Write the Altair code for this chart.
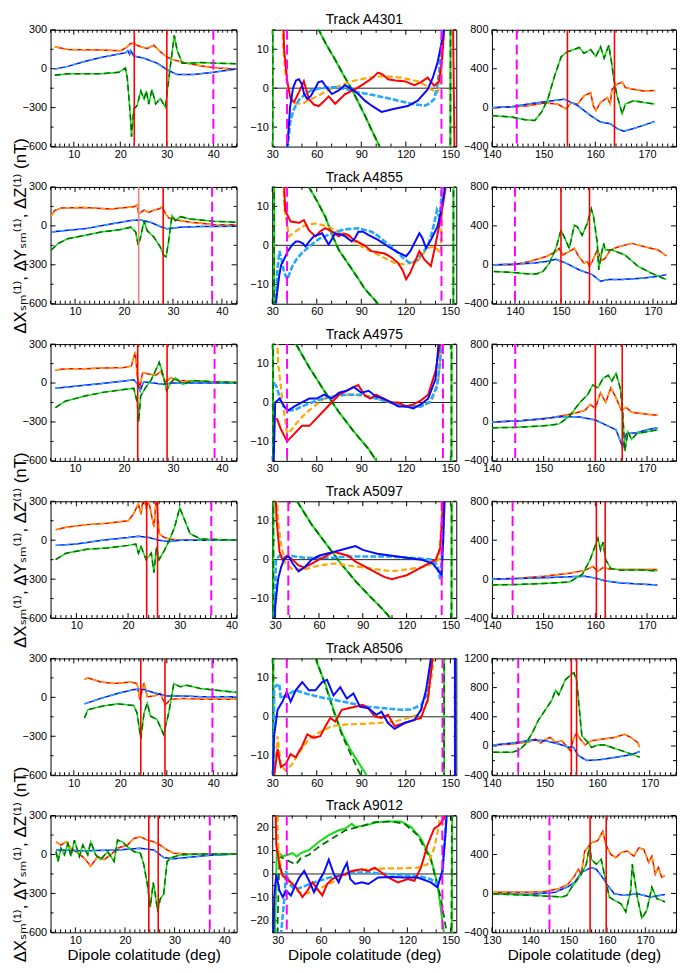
import math
import altair as alt
import pandas as pd

FONT = "Liberation Sans, Arial, DejaVu Sans"
RED = "#ff0000"; ORANGE = "#ffa500"; BLUE = "#0a0aff"; CYAN = "#22a8ff"
GREEN = "#11dd11"; DKGREEN = "#007000"; MAGENTA = "#ff00ff"; PINK = "#f28080"
H = 118
W_L, W_M, W_R = 188, 186, 186
YTITLE = "ΔXₛₘ⁽¹⁾, ΔYₛₘ⁽¹⁾, ΔZ⁽¹⁾ (nT)"
XTITLE = "Dipole colatitude (deg)"

# ---------------- Track A4301 ----------------
A4301_left_red = [(5.9,169),(8.7,149),(12,146),(15.8,144),(20.1,139),(21.5,169),(22.2,194),(22.9,194),(23.6,181),(24.4,169),(25.8,156),(27.2,181),(28.6,131),(30.1,88),(31.5,68),(33.6,48),(37.2,23),(40.7,5),(45,-3)]
A4301_left_blue = [(5.9,-3),(8.7,18),(12.3,56),(15.8,86),(19.4,111),(21.2,124),(21.6,139),(22,110),(22.2,140),(22.9,98),(25.1,81),(27.9,43),(30.1,-8),(32.2,-45),(35.7,-45),(40,-28),(45,-3)]
A4301_left_green = [(5.9,-50),(8.7,-38),(15.8,-38),(19.7,-28),(21.1,5),(21.5,-71),(22.2,-386),(22.4,-524),(22.9,-310),(23.6,-285),(24.4,-171),(25.1,-234),(25.6,-171),(26.1,-272),(26.8,-161),(27.6,-272),(28.6,-229),(29.7,-297),(30.4,-83),(31.1,118),(31.6,257),(32.2,144),(33.3,43),(35,43),(37.2,48),(40.7,43),(45,38)]
A4301_left_redv = [23, 30]
A4301_left_magv = [40]

A4301_mid_red = [(36.5,30),(38,10),(40,2),(42.4,-2.8),(44.7,-3.6),(48,-1),(51.3,1.8),(54.7,-2.8),(58,-4.2),(61.3,-4.6),(64.5,-3.5),(68,-2.1),(72.4,-4),(79.1,-1.5),(85.8,-0.3),(92.4,1.3),(97,2.5),(101.3,4),(104.5,3.5),(108,2.3),(113,2),(119.1,1.8),(125.8,0.8),(130,1.5),(134.7,2.7),(139.1,0.6),(142.4,1.8),(144.5,8),(145.8,15),(147,30),(150.5,60),(153.5,-40)]
A4301_mid_orange = [(35.5,30),(37.5,10),(39.1,3.1),(41,-1),(43.6,-3.2),(46,-4),(50.2,-4),(55,-3),(61.3,-1.9),(66,-0.8),(72.4,0.2),(78,1),(83.6,1.8),(94.7,2.7),(105.8,3.1),(116.9,2.7),(128,1.8),(133,0.8),(136.9,-0.3),(141.3,-1.1),(143,1),(144,4.8),(145.8,15),(147,30)]
A4301_mid_blue = [(39.5,-30),(40.2,-15),(42,-5),(44,0),(46,2),(48,2.3),(50,1),(51.5,-1.5),(53.6,-2.8),(56,-2),(59,0),(61,1.5),(63.6,1.8),(66,0.5),(70.2,-1.5),(75,-0.5),(79,0.8),(83.6,-0.3),(88,-1.5),(92.4,-3.2),(97,-4.5),(103.6,-6.1),(112.4,-5.3),(121.3,-4.6),(128,-3.2),(134.7,-0.3),(138,2.5),(141.3,6.5),(145.8,14.9),(147,30)]
A4301_mid_cyan = [(39.5,-30),(40.5,-15),(42,-9),(44,-6),(45.8,-4.5),(48,-3),(52.4,-1.5),(56,-0.6),(61.3,-0.1),(67,0.2),(74.7,0.2),(80,-0.3),(88,-1.1),(97,-1.7),(105.8,-2.4),(115,-3.2),(123.6,-4),(132.4,-4.5),(136,-4),(139,-2.8),(141,0),(142.4,4),(144.7,14.9),(146,30)]
A4301_mid_green = [(30.1,-100),(30.4,100),(61.3,15),(66,11.5),(72.4,7.3),(78,3.4),(83.6,-0.3),(88,-3.6),(92.4,-7),(97,-10.8),(102.4,-15),(105,-17),(149.8,-100),(150.3,100)]
A4301_mid_magv = [40, 144]

A4301_right_red = [(140,0),(143.8,7),(147,20),(150.2,47),(152.7,37),(154.3,-13),(155.3,47),(156.6,37),(157.8,121),(159.1,155),(159.6,20),(160.1,-30),(161,54),(162.3,104),(162.9,37),(163.2,188),(164.2,239),(165.2,262),(165.8,205),(166.8,195),(169.3,171),(171.5,175)]
A4301_right_blue = [(140,0),(143.8,10),(147,37),(150.2,60),(154,87),(156.6,20),(159.1,-81),(161,-148),(162.9,-165),(164.2,-215),(165.5,-242),(167.4,-215),(169.3,-182),(171.5,-141)]
A4301_right_green = [(140,-81),(143.8,-97),(146.4,-124),(148.3,-131),(149.6,-47),(150.8,87),(152.1,323),(153.4,524),(154.6,575),(155.9,598),(156.9,618),(157.8,558),(159.1,598),(160.1,524),(161,625),(161.7,508),(162.6,642),(163.1,474),(163.6,289),(164.2,121),(165.2,-64),(165.8,37),(167.4,71),(169.3,54),(171.5,37)]
A4301_right_redv = [154.6, 163.7]
A4301_right_magv = [144.8]

# ---------------- Track A4855 ----------------
A4855_left_red = [(5.1,72),(5.8,118),(7.2,137),(11.9,142),(17.3,130),(22,147),(22.7,162),(23,92),(24.1,122),(25.1,104),(26.1,122),(27.1,130),(27.8,147),(28.5,92),(29.1,61),(30.8,46),(33.5,28),(38.3,10),(43,8)]
A4855_left_blue = [(5.1,-48),(8,-35),(11.9,-23),(17.3,15),(21.4,41),(23.4,46),(25.4,28),(27.4,-5),(28.8,-23),(31.5,-10),(35.6,-5),(43,-3)]
A4855_left_green = [(5.1,-188),(6.5,-137),(8.5,-99),(11.9,-74),(15.3,-48),(19.3,-28),(21.4,-10),(22.4,-48),(22.9,-150),(23.4,-86),(24.1,41),(24.7,-36),(26.1,-86),(27.4,-162),(28.1,-226),(28.6,-238),(29.1,-124),(29.8,79),(30.5,41),(31.5,71),(33.5,53),(38.3,35),(43,28)]
A4855_left_pinkv = [23]
A4855_left_redv = [28]
A4855_left_magv = [38]

A4855_mid_red = [(36.5,30),(38.7,9),(42.4,6.1),(48,5.8),(51.3,6.5),(54.7,3.9),(59.1,2.3),(62,3.5),(65.8,4.4),(70.2,3.5),(74.7,2.3),(78,3),(81.3,2.7),(84.5,1.5),(88,0.8),(92,0),(96.9,-1.5),(101,-1.8),(105.8,-2.1),(110,-3),(114.7,-4.5),(118,-6.5),(120.2,-8.7),(123,-7),(125.8,-4.5),(129.1,-1.5),(132.4,-3.6),(136.9,-5.3),(140.2,0.6),(143.6,7.3),(146.9,15),(148,25)]
A4855_mid_orange = [(35.5,30),(38.4,9),(41.3,2.3),(44.7,3.3),(50.2,4.8),(55,5.4),(59.1,5.6),(64,5.2),(68,4.8),(73,3.8),(79.1,2.7),(84,1.3),(90.2,-0.3),(95,-1.3),(101.3,-2.4),(107,-3.5),(112.4,-4.5),(119.1,-4.9),(128,-4),(132,-2),(134.7,-0.7),(139.1,-0.3),(141.5,-1.2),(143.6,-2.1),(144,5),(144.5,11.5),(145.5,25)]
A4855_mid_blue = [(32.4,-15),(34.7,-7.8),(36,-5),(38,-3.6),(40.5,-1.5),(43.6,0.2),(46,1),(48,1),(50.5,0.5),(52.4,-0.3),(55,1),(58,2.3),(63.6,3.1),(66,1.5),(68,0.2),(70,1.5),(72.4,3.1),(76,2.8),(79.1,2.3),(83.6,1),(86,2),(88,3.5),(91,3.5),(94.7,2.7),(101.3,1.4),(108,-0.3),(114.7,-1.8),(120.2,-2.8),(123,-1.5),(125.8,0.6),(129.1,3.1),(131,2),(133.6,-0.7),(136.9,1.4),(139,3),(141.3,4.8),(143.5,8.5),(145.8,13.2),(147,20)]
A4855_mid_cyan = [(32,-20),(33.3,-7),(34.8,-1.5),(36.5,-4),(38,-7),(40.2,-8.7),(43.6,-5.3),(46.5,-3.5),(50.2,-1.9),(55,-0.3),(59.1,1),(63,2),(68,2.7),(73,3.5),(79.1,4.1),(88,4.4),(96.9,3.5),(101,2.5),(105.8,1),(110,-0.3),(114.7,-1.9),(118,-3.2),(122.4,-4.5),(125,-4.3),(128,-3.6),(131,-2),(134.7,-0.3),(137,2.5),(139.1,5.6),(140.9,9),(142.4,7.3),(143.5,10),(145,20)]
A4855_mid_green = [(31,-100),(31.5,100),(54.7,15),(60,11.5),(65.8,7.3),(70,3),(74.7,-1.1),(79,-3.5),(83.6,-6.1),(88,-8.6),(92.4,-11.2),(97,-13.2),(101.3,-15),(104,-17),(151.8,-100),(152.3,100)]
A4855_mid_magv = [40, 144]

A4855_right_red = [(135.4,0),(139.6,0),(143.2,34),(146.8,85),(148.9,135),(149.6,169),(150.4,101),(151.8,135),(152.9,169),(153.9,85),(155,17),(155.7,34),(156.2,-17),(156.8,34),(157.9,152),(158.9,44),(159.6,68),(160.7,152),(162.5,186),(165.4,220),(168.2,186),(171.1,152),(172.9,91)]
A4855_right_blue = [(135.4,0),(139.6,7),(143.9,17),(146.8,34),(148.9,57),(151.1,17),(153.9,-51),(156.8,-101),(158.6,-169),(160.4,-152),(163.2,-152),(168.2,-135),(171.1,-118),(172.9,-101)]
A4855_right_green = [(135.4,-68),(139.6,-78),(142.5,-91),(144.6,-95),(146.1,-68),(147.5,17),(148.9,169),(150,355),(150.7,287),(151.8,169),(152.9,406),(153.6,389),(154.6,304),(155.7,423),(156.6,575),(157.1,490),(157.9,220),(158.2,-51),(158.8,118),(159.3,220),(159.6,152),(161.1,152),(163.9,101),(166.8,-17),(169.6,-85),(172.9,-152)]
A4855_right_redv = [150, 156.2]
A4855_right_magv = [140]

# ---------------- Track A4975 ----------------
A4975_left_red = [(6,100),(8,110),(12,110),(16,115),(20,120),(21.5,130),(22.3,240),(22.7,60),(23.2,-40),(23.8,80),(25,70),(26.5,60),(27.5,90),(28.5,10),(29.5,40),(31,20),(34,15),(38,10),(43,5)]
A4975_left_blue = [(6,-40),(10,-25),(15,-5),(20,15),(22,25),(22.8,-10),(23.3,-60),(24,10),(26,0),(28,-10),(30,0),(35,0),(43,0)]
A4975_left_green = [(6,-190),(8,-140),(12,-100),(16,-70),(20,-50),(22,-40),(22.7,-150),(23,-300),(23.4,-100),(24.5,-30),(25.5,20),(26.5,100),(27.2,160),(28,60),(28.7,-60),(29.5,0),(30.5,40),(32,-10),(34,20),(38,10),(43,5)]
A4975_left_redv = [22.8, 28.8]
A4975_left_magv = [38.5]

A4975_mid_red = [(33,-4),(36,-7),(40,-10),(45,-8),(50,-6),(55,-6),(60,-4),(65,-2),(70,0),(75,2),(80,3),(85,4),(88,4.5),(92,2),(96,1),(100,2),(105,1),(110,0),(115,0),(120,-1),(125,-0.5),(130,0.5),(135,2),(140,8),(143,15),(145,30)]
A4975_mid_orange = [(32,30),(34,10),(37,0),(40,-8),(43,-7),(47,-5),(52,-3),(58,-1),(65,1),(75,2),(85,2),(95,1.5),(105,0.5),(115,-0.5),(125,-1),(132,-1),(138,1),(142,6),(145,20)]
A4975_mid_blue = [(31,-15),(32,0),(35,1),(38,-1),(41,-2),(45,-1),(50,0),(55,1),(60,1),(65,2),(70,1),(75,2.5),(80,3),(85,4),(90,2.5),(95,3),(100,1.5),(105,1),(110,0),(115,-1),(120,-1),(125,-1.5),(130,-0.5),(135,1),(140,6),(142,15),(144,20)]
A4975_mid_cyan = [(31,5),(33,4),(36,0),(40,-2),(45,-2),(50,-1),(60,0.5),(70,1.5),(80,2),(90,2),(100,1),(110,0),(120,-1),(130,-1),(136,0),(141,4),(143,10),(145,20)]
A4975_mid_green = [(30.3,-100),(30.8,100),(46,15),(55,9),(65,3),(75,-2.5),(85,-7.5),(95,-12),(101,-15.5),(105,-18),(150.5,-100),(151,100)]
A4975_mid_magv = [40, 145]

A4975_right_red = [(140,0),(145,10),(150,30),(153,60),(156,90),(158,120),(159,180),(160,140),(161,300),(162,200),(163,350),(164,250),(165,120),(166,150),(167,100),(170,80),(172,70)]
A4975_right_blue = [(140,0),(145,10),(150,35),(154,55),(157,50),(160,20),(162,-30),(164,-80),(165.3,-260),(166,-120),(168,-110),(170,-80),(172,-60)]
A4975_right_green = [(140,-60),(145,-55),(150,-40),(153,-20),(155,60),(157,200),(158.5,280),(159.5,380),(160.5,350),(161.5,450),(162.5,480),(163.2,420),(164,500),(164.8,350),(165.3,100),(165.7,-300),(166.3,-100),(167,-180),(168,-120),(170,-100),(172,-80)]
A4975_right_redv = [160, 165.2]
A4975_right_magv = [144.5]

# ---------------- Track A5097 ----------------
A5097_left_red = [(6,80),(8,100),(12,120),(16,130),(20,150),(21,200),(22,280),(22.5,200),(23,350),(23.5,250),(24,300),(25,100),(25.5,350),(26,50),(27,20),(28,10),(30,0),(35,0),(41,0)]
A5097_left_blue = [(6,-40),(10,-30),(15,0),(20,20),(22,30),(24,20),(26,0),(28,-10),(30,0),(41,0)]
A5097_left_green = [(6,-150),(8,-100),(12,-70),(16,-60),(20,-40),(21.5,-30),(22,-100),(22.5,-50),(23.5,-150),(24.5,-100),(25,-250),(25.5,-50),(26,-150),(27,-80),(28,0),(29,100),(30,250),(31,150),(32,50),(34,10),(41,0)]
A5097_left_redv = [23.6, 25.7]
A5097_left_magv = [36.1]

A5097_mid_red = [(29,30),(31,10),(33,2),(35,0),(38,1),(42,0),(46,-1.5),(50,-2),(55,-1),(60,0),(65,1),(70,2),(75,1.5),(80,1),(85,-0.5),(90,-1.5),(95,-2.5),(100,-3.5),(105,-4.5),(110,-5),(115,-4.5),(120,-4),(125,-3),(130,-2),(135,-1),(140,0),(143,3),(145,15),(146,30)]
A5097_mid_orange = [(30,30),(32,10),(34,4),(37,-1),(42,-2.5),(50,-2.5),(60,-1.5),(70,-1),(80,-1.5),(90,-2),(100,-2.5),(110,-3),(120,-2.5),(130,-2),(138,-1),(142,0),(144,10),(145,30)]
A5097_mid_blue = [(28.5,-30),(30,-12),(32,-5),(34,-2),(36,0),(39,1),(42,-1),(46,-3),(50,-2),(55,0),(60,1),(65,1.5),(70,2),(75,2.5),(80,3),(85,3.5),(90,2.5),(95,2),(100,1.5),(110,1),(120,0.5),(130,0),(138,-1),(142,-3),(144,-4),(146,15),(147,30)]
A5097_mid_cyan = [(29,-30),(30.5,0),(33,1),(36,0.5),(40,1),(50,0.5),(60,0.5),(70,0.5),(80,0.8),(90,0.8),(100,0.8),(110,0.8),(120,0.5),(130,0.3),(138,0),(141,-1.5),(143,-5),(145,5),(146,30)]
A5097_mid_green = [(28.5,-100),(29,100),(45,15),(55,9),(65,4),(75,-1),(85,-5.5),(95,-9.5),(103,-12.5),(110,-15.5),(115,-18),(150.5,-100),(151,100)]
A5097_mid_magv = [39, 144]

A5097_right_red = [(140,0),(145,10),(150,30),(155,60),(158,90),(159.5,130),(160.5,80),(161.5,120),(163,100),(166,100),(172,100)]
A5097_right_blue = [(140,0),(145,5),(150,15),(155,25),(158,30),(160,10),(162,-20),(165,-40),(172,-60)]
A5097_right_green = [(140,-60),(145,-55),(150,-45),(155,-30),(157.5,50),(159,200),(160,350),(160.5,420),(161,300),(161.5,380),(162,200),(163,110),(165,90),(168,95),(172,85)]
A5097_right_redv = [160.2, 161.9]
A5097_right_magv = [144]

# ---------------- Track A8506 ----------------
A8506_left_red = [(12.3,136),(13,151),(15.8,118),(18.7,106),(22.2,118),(23.6,106),(24.2,-20),(24.7,55),(25.1,111),(25.8,5),(27.2,10),(28.6,30),(29.7,-58),(30.8,-15),(33.6,-8),(37.2,-15),(45,-15)]
A8506_left_blue = [(12.3,-50),(15.8,-8),(19.4,30),(22.9,60),(25.1,60),(27.2,35),(30.1,10),(33.6,10),(37.2,5),(45,5)]
A8506_left_green = [(12.3,-159),(13,-96),(15.8,-71),(19.4,-50),(22.9,-63),(23.6,-121),(24.4,-318),(25.1,-121),(25.8,-45),(26.5,-146),(27.9,-171),(29.3,-285),(30.4,-121),(31.5,106),(32.9,81),(34.3,93),(37.2,68),(40.7,55),(45,38)]
A8506_left_redv = [24.4, 29.6]
A8506_left_magv = [39.8]

A8506_mid_red = [(31.3,-15),(33.6,-8.3),(35.8,-12.9),(39.1,-12.1),(42.4,-9.6),(45.8,-10.4),(50.2,-7.5),(53.6,-4.5),(58,-5.4),(62.4,-5),(65.8,-2.4),(69.1,-0.3),(72.4,-1.2),(76.9,1.8),(81.3,2.2),(85.8,2.6),(91.3,3),(94.7,2.2),(99.1,0.1),(103.6,-0.3),(108,0.5),(112.4,-2.4),(119.1,-1.6),(125.8,-0.8),(130.2,-0.3),(134.7,4.3),(138,15),(140,30)]
A8506_mid_orange = [(31.3,-15),(33.6,-5),(35.8,-12.5),(39.1,-13.8),(43.6,-12.1),(48,-9.2),(54.7,-5.8),(61.3,-4.1),(70.2,-2.4),(79.1,-2),(90.2,-1.8),(101.3,-1.6),(112.4,-1.2),(121.3,-0.3),(128,0.5),(134.7,3.9),(139.1,15),(141,30),(153.2,100),(153.6,-100)]
A8506_mid_blue = [(30.2,-15),(31.3,-4.8),(33.6,1.8),(36.9,3.9),(39.8,6.4),(42.4,3.9),(45.8,6.8),(50.2,8.9),(54.7,6.8),(59.1,6.8),(63.6,8.9),(66.9,9.5),(71.3,5.5),(75.8,7.6),(80.2,4.7),(84.7,6),(89.1,2.6),(94.7,2.2),(100.2,0.5),(103.6,1.3),(108,-1.6),(112.4,-3.1),(119.1,-1.6),(125.8,-0.8),(130.2,1.8),(133.6,6.8),(136.9,15),(140,30),(153,100),(153.3,-100)]
A8506_mid_cyan = [(30.9,-15),(31.3,7.6),(34.7,8.5),(35.8,4.7),(39.1,5.5),(45.8,6.8),(52.4,6),(61.3,5.1),(72.4,4.3),(83.6,3.4),(94.7,2.6),(105.8,2.2),(116.9,1.8),(123.6,1.9),(130.2,3),(134.7,6),(138,15),(140,30),(153,100),(153.4,-100)]
A8506_mid_green = [(30.5,-100),(30.9,100),(59.1,15),(62,12),(65.8,8.5),(71.3,1.8),(76.9,-4.1),(82.4,-8.3),(88,-11.7),(93.6,-15),(96,-17),(145.6,-100),(146,100)]
A8506_mid_dkgreen = [(30.5,-100),(30.9,100),(59.5,15),(65.8,8),(71.3,1.5),(76.9,-4.6),(82.4,-9.2),(87,-13),(89.6,-15),(92,-17),(145.6,-100),(146,100)]
A8506_mid_magv = [39.8, 144.7]

A8506_right_red = [(140.2,13),(143.9,27),(147.1,58),(148.3,94),(149.3,40),(150.2,94),(151.1,117),(152.1,49),(153.3,72),(154.9,-63),(155.5,94),(156.1,175),(156.8,94),(157.7,13),(158.9,72),(160.8,94),(163.3,117),(165.2,161),(166.4,117),(167.7,49),(168.1,-18)]
A8506_right_blue = [(140.2,13),(143.9,40),(147.7,81),(150.2,72),(152.7,27),(154.6,-18),(155.5,-18),(156.4,-130),(158,-197),(160.8,-184),(163.9,-152),(166.4,-121),(168.1,-76)]
A8506_right_green = [(140.2,-85),(143.9,-85),(145.2,-54),(146.4,27),(147.7,184),(148.9,363),(150.2,498),(151.4,632),(152.1,766),(152.7,699),(153.9,901),(155.2,991),(155.6,1000),(156.1,901),(157.1,139),(157.7,94),(158.3,49),(158.9,-18),(160.2,13),(161.4,13),(162.7,-18),(164.6,-63),(166.4,-108),(168.1,-152)]
A8506_right_redv = [155.1, 156.1]
A8506_right_magv = [145]

# ---------------- Track A9012 ----------------
A9012_left_red = [(6.1,98),(7.1,73),(8.1,98),(9.1,48),(10.5,10),(11.8,-28),(13.1,-90),(14.5,-15),(15.8,-40),(17.1,-3),(18.5,48),(20.5,73),(21.8,123),(23.1,136),(24.5,111),(25.8,98),(27.1,73),(28.5,35),(29.8,10),(32.5,3),(42.5,3)]
A9012_left_blue = [(6.1,35),(11.8,28),(18.5,35),(23.1,48),(25.8,35),(27.8,-23),(29.8,-33),(32.5,-23),(36.5,-8),(42.5,3)]
A9012_left_green = [(6.1,23),(6.5,-53),(7.1,48),(7.8,-3),(8.5,85),(9.1,-15),(9.8,111),(10.8,-15),(11.5,73),(12.5,-3),(13.1,98),(14.1,-3),(15.1,-40),(16.5,23),(17.8,-53),(18.5,111),(19.5,98),(20.5,60),(21.8,23),(23.1,10),(23.8,-78),(24.5,-229),(25.1,-405),(25.7,-216),(26.1,-304),(26.6,-442),(27.1,-342),(27.8,-304),(28.5,-53),(29.5,-23),(31.1,-3),(35.1,3),(42.5,3)]
A9012_left_redv = [24.8, 26.7]
A9012_left_magv = [37.1]

A9012_mid_red = [(28,40),(28.9,12.4),(31.1,4.1),(33.4,-0.8),(38,-2.9),(42.6,-5.7),(47.1,-9.9),(50.6,-7.1),(54,-3.6),(57.4,-6.4),(60.9,-9.2),(64.3,-4.3),(67.7,-2.2),(72.3,-0.8),(76.9,-0.1),(81.4,1.3),(88.3,2),(92.9,1.3),(97.4,2.7),(102,0.6),(106.6,-1.5),(113.4,-3.6),(120.3,-2.2),(124.9,-2.9),(129.4,2.7),(134,12.4),(138.6,19.4),(142,20.8),(145.4,23.6),(147.7,30)]
A9012_mid_orange = [(29,40),(30,13.8),(32.3,0.6),(35.7,-2.2),(40.3,-5.7),(44.9,-7.8),(49.4,-8.5),(56.3,-7.1),(63.1,-5),(72.3,-2.2),(81.4,1.3),(92.9,2),(104.3,2.4),(115.7,2.4),(127.1,2.7),(134,4.1),(138.6,11),(142,20.8),(143.6,30)]
A9012_mid_blue = [(26.5,-40),(27.5,-10),(28.9,-0.1),(31.1,-7.1),(33.4,-9.9),(35.7,-7.1),(39.1,-9.2),(42.6,-4.3),(44.9,-1.5),(48.3,1.3),(51.7,-2.9),(55.1,-7.8),(58.6,-2.9),(62,0.6),(65.4,6.1),(68.9,-0.1),(72.3,-3.6),(75.7,2),(78,4.7),(80.3,-2.2),(83.7,-4.3),(88.3,-3.6),(92.9,-4.3),(99.7,-1.5),(108.9,-1.3),(118,-1.5),(127.1,-1.5),(136.3,-3.6),(140.9,-5.7),(144.3,1.3),(146.6,18),(147.7,30)]
A9012_mid_cyan = [(31.5,-40),(32.3,-25),(34.6,-9.9),(35.7,1.3),(38,-4.3),(40.3,-5.7),(43.7,-6.4),(49.4,-5),(58.6,-2.9),(70,-0.8),(81.4,0.6),(92.9,0.6),(104.3,0.1),(115.7,-0.4),(127.1,-0.8),(136.3,-2.2),(140.9,-4.3),(144.3,-0.1),(147.7,30)]
A9012_mid_green = [(27.5,-40),(29.3,11),(31.1,8.9),(33.4,7.5),(36.9,8.2),(40.3,8.9),(43,7.5),(46,8.9),(51.7,10.3),(58.6,13.8),(65.4,16.6),(72.3,18.7),(76.9,19.4),(81.4,21.5),(83.7,20.1),(90.6,20.8),(99.7,22.2),(108.9,22.5),(115.7,22.5),(122.6,20.1),(129.4,15.2),(136.3,6.8),(140.9,-4.3),(145.4,-25),(146,-40),(150.8,-40),(151.2,40)]
A9012_mid_dkgreen = [(29,-40),(31.1,7.5),(35.7,6.1),(40.3,4.7),(42.6,4.1),(46,6.8),(51.7,8.2),(58.6,11.7),(67.7,15.2),(76.9,18.7),(86,20.1),(97.4,22.2),(108.9,22.5),(118,21.5),(127.1,16.6),(136.3,6.1),(143.1,-9.9),(147.3,-25),(148,-40),(150.5,-40),(151,40)]
A9012_mid_magv = [36.2, 144.3]

A9012_right_red = [(130.3,13),(139.7,13),(143.9,20),(147.4,47),(149.9,98),(151.6,182),(152.5,249),(153.3,199),(154.2,435),(155.9,519),(157.6,543),(158.9,637),(159.7,502),(161,401),(162.3,367),(163.6,418),(165.3,435),(167,384),(168.3,468),(169.6,452),(170.9,317),(171.7,384),(172.6,199),(173.4,266),(174.3,165),(175.1,182)]
A9012_right_blue = [(130.3,-3),(139.7,-10),(146.5,13),(149.9,71),(151.6,115),(153.3,216),(155.9,266),(157.2,249),(158.5,182),(160.2,81),(161.9,-3),(164.4,-20),(167.9,-3),(171.3,-37),(175.1,-10)]
A9012_right_green = [(130.3,-3),(139.7,-20),(145.6,-30),(148.2,-37),(149.5,-20),(150.8,64),(152.1,131),(153.3,199),(154.6,300),(155.5,502),(155.9,350),(157.2,300),(158.5,350),(159.3,199),(160.6,-37),(161.9,-71),(163.6,-104),(164.9,-189),(166.2,30),(166.6,300),(167.9,-37),(169.1,-256),(170.4,-172),(171.7,64),(173,-54),(174.3,-71),(175.1,-88)]
A9012_right_redv = [155.6, 159.8]
A9012_right_magv = [145]

# ---------------- axes / domains ----------------
LEFT_Y = [-600, -300, 0, 300]
LEFT_X = [10, 20, 30, 40]
MID_X = [30, 60, 90, 120, 150]
MID_Y = [-10, 0, 10]
MID_Y6 = [-20, -10, 0, 10, 20]
RIGHT_X = [140, 150, 160, 170]
RIGHT_X6 = [130, 140, 150, 160, 170]
RIGHT_Y = [-400, 0, 400, 800]
RIGHT_Y5 = [-400, 0, 400, 800, 1200]


def step_vals(lo, hi, step):
    out = []
    k = math.ceil(lo / step - 1e-9)
    while k * step <= hi + 1e-9:
        out.append(round(k * step, 6))
        k += 1
    return out


def line_df(pairs):
    return pd.DataFrame({"x": [p[0] for p in pairs], "y": [p[1] for p in pairs],
                         "i": list(range(len(pairs)))})


def panel(lines, xdom, ydom, xlab, ylab, xmaj, xmin_, ymaj, ymin_, width,
          redv=(), magv=(), pinkv=(), zero=False, title=None, ytitle=None, xtitle=None):
    xs = alt.Scale(domain=list(xdom), nice=False, zero=False)
    ys = alt.Scale(domain=list(ydom), nice=False, zero=False)
    xkw = dict(values=xlab, format="d", ticks=False, tickSize=0, domain=False, grid=False,
               labelFont=FONT, labelFontSize=11, labelColor="black", labelPadding=2,
               labelFlush=False, labelOverlap=False, title=None)
    if xtitle:
        xkw.update(title=xtitle, titleFont=FONT, titleFontSize=15.5, titleFontWeight="normal",
                   titleColor="black", titleY=15, titleBaseline="top")
    ykw = dict(values=ylab, format="d", ticks=False, tickSize=0, domain=False, grid=False,
               labelFont=FONT, labelFontSize=11, labelColor="black", labelPadding=4,
               labelFlush=False, labelOverlap=False, title=None)
    if ytitle:
        ykw.update(title=ytitle, titleFont=FONT, titleFontSize=17, titleFontWeight="normal",
                   titleColor="black", titleX=-21, titleY=H / 2 - 10, titleAngle=270,
                   titleBaseline="bottom", titleAlign="center", titleLimit=600)
    xax = alt.Axis(**xkw)
    yax = alt.Axis(**ykw)
    X = lambda f: alt.X(f, scale=xs, axis=xax)
    Y = lambda f: alt.Y(f, scale=ys, axis=yax)

    layers = []
    # inward frame ticks
    xt_major = step_vals(xdom[0], xdom[1], xmaj)
    xt_minor = [v for v in step_vals(xdom[0], xdom[1], xmin_) if v not in xt_major]
    yt_major = step_vals(ydom[0], ydom[1], ymaj)
    yt_minor = [v for v in step_vals(ydom[0], ydom[1], ymin_) if v not in yt_major]
    for vals, ln in ((xt_major, 5), (xt_minor, 3)):
        if not vals:
            continue
        d = pd.DataFrame({"v": vals})
        layers.append(alt.Chart(d).mark_rule(color="black", strokeWidth=1).encode(
            x=X("v:Q"), y=alt.value(H), y2=alt.value(H - ln)))
        layers.append(alt.Chart(d).mark_rule(color="black", strokeWidth=1).encode(
            x=X("v:Q"), y=alt.value(0), y2=alt.value(ln)))
    for vals, ln in ((yt_major, 5), (yt_minor, 3)):
        if not vals:
            continue
        d = pd.DataFrame({"v": vals})
        layers.append(alt.Chart(d).mark_rule(color="black", strokeWidth=1).encode(
            y=Y("v:Q"), x=alt.value(0), x2=alt.value(ln)))
        layers.append(alt.Chart(d).mark_rule(color="black", strokeWidth=1).encode(
            y=Y("v:Q"), x=alt.value(width), x2=alt.value(width - ln)))
    if zero:
        layers.append(alt.Chart(pd.DataFrame({"v": [0]})).mark_rule(
            color="#222222", strokeWidth=1).encode(y=Y("v:Q")))
    for pairs, color, dash, sw in lines:
        kw = dict(color=color, strokeWidth=sw, clip=True)
        if dash:
            kw["strokeDash"] = dash
        layers.append(alt.Chart(line_df(pairs)).mark_line(**kw).encode(
            x=X("x:Q"), y=Y("y:Q"), order=alt.Order("i:Q")))
    for vals, color, dash in ((redv, RED, None), (pinkv, PINK, None), (magv, MAGENTA, [10, 5])):
        if not vals:
            continue
        kw = dict(color=color, strokeWidth=2 if dash else 1.6, clip=True)
        if dash:
            kw["strokeDash"] = dash
        layers.append(alt.Chart(pd.DataFrame({"v": list(vals)})).mark_rule(**kw).encode(x=X("v:Q")))
    props = dict(width=width, height=H)
    if title:
        props["title"] = alt.TitleParams(text=title, font=FONT, fontSize=14, fontWeight="normal",
                                         color="black", offset=2)
    return alt.layer(*layers).properties(**props)


def side_lines(red, blue, green):
    return [(red, RED, None, 1.5), (red, ORANGE, [5, 4], 1.5),
            (blue, BLUE, None, 1.5), (blue, CYAN, [5, 4], 1.5),
            (green, GREEN, None, 1.5), (green, DKGREEN, [6, 4], 1.5)]


def mid_lines(red, orange, blue, cyan, green, dkgreen):
    return [(green, GREEN, None, 2), (dkgreen, DKGREEN, [7, 4], 1.8),
            (orange, ORANGE, [6, 3], 2.2), (cyan, CYAN, [6, 2], 2.6),
            (red, RED, None, 2), (blue, BLUE, None, 2)]


rows = [
    ("A4301", (5, 45), A4301_left_red, A4301_left_blue, A4301_left_green, A4301_left_redv, A4301_left_magv, (),
     (30, 154), A4301_mid_red, A4301_mid_orange, A4301_mid_blue, A4301_mid_cyan, A4301_mid_green, A4301_mid_green, A4301_mid_magv,
     (140, 175.6), A4301_right_red, A4301_right_blue, A4301_right_green, A4301_right_redv, A4301_right_magv),
    ("A4855", (5, 43), A4855_left_red, A4855_left_blue, A4855_left_green, A4855_left_redv, A4855_left_magv, A4855_left_pinkv,
     (30, 154), A4855_mid_red, A4855_mid_orange, A4855_mid_blue, A4855_mid_cyan, A4855_mid_green, A4855_mid_green, A4855_mid_magv,
     (135, 175), A4855_right_red, A4855_right_blue, A4855_right_green, A4855_right_redv, A4855_right_magv),
    ("A4975", (5, 43), A4975_left_red, A4975_left_blue, A4975_left_green, A4975_left_redv, A4975_left_magv, (),
     (30, 154), A4975_mid_red, A4975_mid_orange, A4975_mid_blue, A4975_mid_cyan, A4975_mid_green, A4975_mid_green, A4975_mid_magv,
     (140, 175.6), A4975_right_red, A4975_right_blue, A4975_right_green, A4975_right_redv, A4975_right_magv),
    ("A5097", (5, 41), A5097_left_red, A5097_left_blue, A5097_left_green, A5097_left_redv, A5097_left_magv, (),
     (28, 154), A5097_mid_red, A5097_mid_orange, A5097_mid_blue, A5097_mid_cyan, A5097_mid_green, A5097_mid_green, A5097_mid_magv,
     (140, 175.6), A5097_right_red, A5097_right_blue, A5097_right_green, A5097_right_redv, A5097_right_magv),
    ("A8506", (5, 45), A8506_left_red, A8506_left_blue, A8506_left_green, A8506_left_redv, A8506_left_magv, (),
     (30, 154), A8506_mid_red, A8506_mid_orange, A8506_mid_blue, A8506_mid_cyan, A8506_mid_green, A8506_mid_dkgreen, A8506_mid_magv,
     (140, 175), A8506_right_red, A8506_right_blue, A8506_right_green, A8506_right_redv, A8506_right_magv),
    ("A9012", (5, 42.5), A9012_left_red, A9012_left_blue, A9012_left_green, A9012_left_redv, A9012_left_magv, (),
     (26.1, 154), A9012_mid_red, A9012_mid_orange, A9012_mid_blue, A9012_mid_cyan, A9012_mid_green, A9012_mid_dkgreen, A9012_mid_magv,
     (130, 178), A9012_right_red, A9012_right_blue, A9012_right_green, A9012_right_redv, A9012_right_magv),
]

panels = []
for r, row in enumerate(rows):
    (name, ldom, lr, lb, lg, lrv, lmv, lpv,
     mdom, mr, mo, mb, mc, mg, mdg, mmv,
     rdom, rr, rb, rg, rrv, rmv) = row
    last = r == len(rows) - 1
    xt = XTITLE if last else None
    yt = YTITLE if r % 2 == 1 else None
    panels.append(panel(side_lines(lr, lb, lg), ldom, (-600, 300), LEFT_X, LEFT_Y,
                        10, 1, 300, 150, W_L, redv=lrv, magv=lmv, pinkv=lpv,
                        ytitle=yt, xtitle=xt))
    mid_ydom = (-25, 25) if last else (-15, 15)
    panels.append(panel(mid_lines(mr, mo, mb, mc, mg, mdg), mdom, mid_ydom, MID_X,
                        MID_Y6 if last else MID_Y, 30, 10, 10, 5, W_M, magv=mmv,
                        zero=True, title="Track " + name, xtitle=xt))
    rydom = (-400, 1200) if name == "A8506" else (-400, 800)
    panels.append(panel(side_lines(rr, rb, rg), rdom, rydom, RIGHT_X6 if last else RIGHT_X,
                        RIGHT_Y5 if name == "A8506" else RIGHT_Y, 10, 1, 400, 200, W_R,
                        redv=rrv, magv=rmv, xtitle=xt))

chart = alt.concat(*panels, columns=3, spacing={"row": 40.8, "column": 36},
                   bounds="flush").properties(
    padding={"left": 3, "top": 0, "right": 0, "bottom": 0}, background="white"
).configure_view(stroke="black", strokeWidth=1)

chart.save("out.html", embed_options={"renderer": "svg", "actions": False})
